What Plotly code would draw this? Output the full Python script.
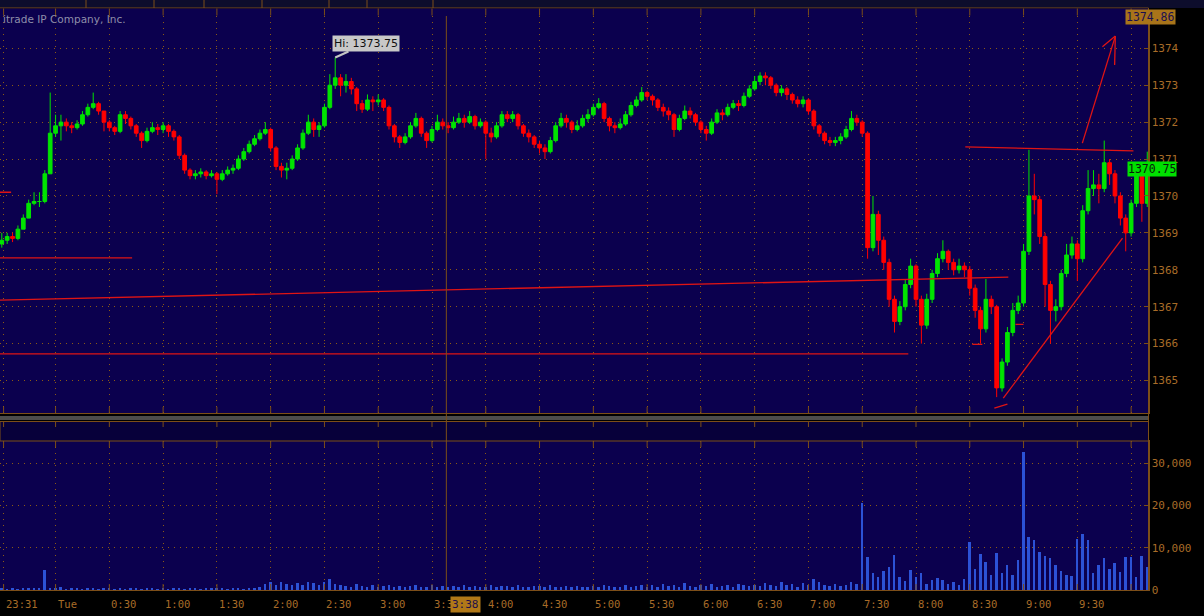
import plotly.graph_objects as go

W, H = 1204, 616

# ---------------- data (3-minute bars, minutes relative to Tue 00:00) ----------------
bar_start = -30
bar_step = 3
first_open = 1368.7

closes = [
    1368.8, 1368.9, 1368.85, 1369.1, 1369.4, 1369.8, 1369.85, 1369.85, 1370.6, 1371.7,
    1371.9, 1372.0, 1371.9, 1371.85, 1371.95, 1372.2, 1372.4, 1372.5, 1372.3, 1372.0,
    1371.85, 1371.75, 1372.2, 1372.1, 1371.9, 1371.7, 1371.5, 1371.75, 1371.85, 1371.8,
    1371.9, 1371.75, 1371.6, 1371.1, 1370.7, 1370.55, 1370.6, 1370.65, 1370.55, 1370.6,
    1370.45, 1370.6, 1370.7, 1370.75, 1371.0, 1371.2, 1371.4, 1371.55, 1371.7, 1371.8,
    1371.3, 1370.8, 1370.7, 1370.75, 1371.0, 1371.3, 1371.7, 1372.0, 1371.8, 1371.9,
    1372.4, 1373.0, 1373.2, 1373.0, 1373.1, 1372.9, 1372.5, 1372.35, 1372.6, 1372.55,
    1372.6, 1372.4, 1371.9, 1371.6, 1371.45, 1371.6, 1371.9, 1372.1, 1371.7, 1371.5,
    1371.8, 1372.0, 1371.9, 1371.85, 1372.0, 1372.1, 1372.0, 1372.15, 1371.9, 1372.0,
    1371.7, 1371.6, 1371.9, 1372.2, 1372.1, 1372.2, 1371.9, 1371.7, 1371.6, 1371.4,
    1371.3, 1371.2, 1371.5, 1371.9, 1372.1, 1372.0, 1371.8, 1371.9, 1372.1, 1372.2,
    1372.4, 1372.5, 1372.1, 1371.9, 1371.85, 1371.95, 1372.2, 1372.45, 1372.6, 1372.8,
    1372.7, 1372.6, 1372.4, 1372.3, 1372.2, 1371.8, 1372.1, 1372.3, 1372.2, 1372.0,
    1371.8, 1371.7, 1372.0, 1372.25, 1372.2, 1372.4, 1372.5, 1372.45, 1372.7, 1372.9,
    1373.1, 1373.25, 1373.2, 1373.0, 1372.8, 1372.9, 1372.75, 1372.6, 1372.5, 1372.6,
    1372.3, 1371.9, 1371.7, 1371.5, 1371.45, 1371.5, 1371.6, 1371.8, 1372.1, 1372.0,
    1371.7, 1368.6, 1369.5, 1368.8, 1368.2, 1367.2, 1366.6, 1367.0, 1367.6, 1368.1,
    1367.2, 1366.5, 1367.2, 1367.9, 1368.3, 1368.5, 1368.2, 1368.0, 1368.1, 1368.0,
    1367.5, 1366.9, 1366.4, 1367.2, 1367.0, 1364.8, 1365.5, 1366.3, 1366.9, 1367.1,
    1368.5, 1370.0, 1369.9, 1368.9, 1367.6, 1366.9, 1367.0, 1367.9, 1368.4, 1368.7,
    1368.3, 1369.6, 1370.2, 1370.3, 1370.2, 1370.9, 1370.6, 1370.0, 1369.4, 1369.0,
    1369.8, 1370.6, 1369.8, 1370.75,
]

highs = [
    1369.0, 1369.0, 1369.0, 1369.2, 1369.5, 1369.9, 1370.1, 1370.1, 1370.7, 1372.8,
    1372.2, 1372.2, 1372.1, 1372.0, 1372.05, 1372.3, 1372.5, 1372.8, 1372.55, 1372.3,
    1372.05, 1371.9, 1372.3, 1372.3, 1372.15, 1371.95, 1371.75, 1371.85, 1372.0, 1371.95,
    1372.0, 1371.95, 1371.8, 1371.65, 1371.15, 1370.75, 1370.7, 1370.75, 1370.7, 1370.7,
    1370.65, 1370.7, 1370.8, 1370.85, 1371.1, 1371.3, 1371.5, 1371.65, 1371.8, 1372.0,
    1371.85, 1371.35, 1370.9, 1370.9, 1371.1, 1371.4, 1371.8, 1372.2, 1372.1, 1372.0,
    1372.5, 1373.3, 1373.75, 1373.3, 1373.3, 1373.2, 1372.95, 1372.6, 1372.75, 1372.7,
    1372.75, 1372.65, 1372.45, 1371.95, 1371.65, 1371.7, 1372.0, 1372.25, 1372.15, 1371.75,
    1371.9, 1372.2, 1372.1, 1372.0, 1372.15, 1372.25, 1372.2, 1372.3, 1372.2, 1372.1,
    1372.05, 1371.85, 1372.0, 1372.3, 1372.3, 1372.3, 1372.25, 1371.95, 1371.8, 1371.65,
    1371.5, 1371.4, 1371.6, 1372.0, 1372.25, 1372.2, 1372.05, 1372.05, 1372.2, 1372.35,
    1372.5, 1372.65, 1372.55, 1372.15, 1372.0, 1372.1, 1372.3, 1372.55, 1372.7, 1372.95,
    1372.85, 1372.75, 1372.65, 1372.5, 1372.4, 1372.25, 1372.2, 1372.45, 1372.4, 1372.25,
    1372.05, 1371.9, 1372.1, 1372.35, 1372.35, 1372.5, 1372.6, 1372.6, 1372.8, 1373.0,
    1373.25, 1373.35, 1373.35, 1373.25, 1373.05, 1373.0, 1372.95, 1372.8, 1372.7, 1372.7,
    1372.65, 1372.35, 1371.95, 1371.75, 1371.6, 1371.6, 1371.7, 1371.9, 1372.3, 1372.2,
    1372.05, 1371.75, 1370.0, 1369.6, 1368.9, 1368.3, 1367.3, 1367.15, 1367.75, 1368.3,
    1368.15, 1367.3, 1367.35, 1368.0, 1368.45, 1368.8, 1368.55, 1368.3, 1368.3, 1368.2,
    1368.1, 1367.6, 1367.0, 1367.75, 1367.3, 1367.05, 1365.6, 1366.45, 1367.1, 1367.3,
    1368.7, 1371.25, 1370.6, 1370.0, 1369.0, 1367.7, 1367.2, 1368.0, 1368.7, 1368.9,
    1368.8, 1369.75, 1370.7, 1370.7, 1370.6, 1371.5, 1371.0, 1370.7, 1370.1, 1369.5,
    1369.9, 1370.9, 1370.7, 1371.2,
]

lows = [
    1368.6, 1368.7, 1368.75, 1368.8, 1369.1, 1369.4, 1369.75, 1369.7, 1369.8, 1370.6,
    1371.6, 1371.5, 1371.75, 1371.7, 1371.8, 1371.9, 1372.15, 1372.35, 1372.2, 1371.75,
    1371.75, 1371.65, 1371.7, 1371.95, 1371.8, 1371.6, 1371.3, 1371.45, 1371.7, 1371.65,
    1371.7, 1371.6, 1371.5, 1371.0, 1370.6, 1370.45, 1370.45, 1370.5, 1370.45, 1370.5,
    1370.05, 1370.4, 1370.55, 1370.6, 1370.7, 1370.95, 1371.15, 1371.35, 1371.5, 1371.65,
    1371.2, 1370.7, 1370.5, 1370.45, 1370.7, 1370.95, 1371.25, 1371.65, 1371.6, 1371.6,
    1371.85, 1372.35, 1372.9, 1372.7, 1372.8, 1372.75, 1372.3, 1372.25, 1372.3, 1372.3,
    1372.45, 1372.3, 1371.8, 1371.45, 1371.3, 1371.4, 1371.55, 1371.85, 1371.6, 1371.3,
    1371.45, 1371.75, 1371.8, 1371.7, 1371.8, 1371.95, 1371.85, 1371.95, 1371.8, 1371.85,
    1371.0, 1371.45, 1371.55, 1371.85, 1372.0, 1372.0, 1371.8, 1371.6, 1371.45, 1371.3,
    1371.15, 1371.0, 1371.15, 1371.45, 1371.85, 1371.85, 1371.7, 1371.75, 1371.85, 1372.0,
    1372.15, 1372.35, 1372.0, 1371.75, 1371.7, 1371.8, 1371.9, 1372.15, 1372.4, 1372.55,
    1372.6, 1372.45, 1372.3, 1372.15, 1372.05, 1371.6, 1371.75, 1372.05, 1372.1, 1371.9,
    1371.7, 1371.5, 1371.65, 1371.95, 1372.05, 1372.15, 1372.35, 1372.3, 1372.4, 1372.65,
    1372.85, 1373.0, 1373.0, 1372.9, 1372.7, 1372.7, 1372.6, 1372.5, 1372.4, 1372.4,
    1372.2, 1371.8, 1371.6, 1371.4, 1371.35, 1371.35, 1371.4, 1371.55, 1371.75, 1371.9,
    1371.6, 1368.3, 1368.5, 1368.4, 1368.0, 1367.0, 1366.3, 1366.5, 1366.9, 1367.5,
    1367.0, 1366.0, 1366.4, 1367.1, 1367.8, 1368.2, 1368.0, 1367.85, 1367.9, 1367.8,
    1367.3, 1366.7, 1366.0, 1366.3, 1366.8, 1364.55, 1364.7, 1365.4, 1366.2, 1366.8,
    1367.0, 1368.4, 1369.5, 1368.7, 1367.0, 1366.0, 1366.6, 1366.9, 1367.8, 1368.3,
    1367.7, 1368.2, 1369.5, 1370.0, 1369.8, 1370.1, 1370.3, 1369.8, 1369.2, 1368.5,
    1368.9, 1369.7, 1369.3, 1369.7,
]

volumes = [
    300, 200, 400, 200, 300, 500, 300, 400, 4700,
    500, 300, 600, 200, 300, 400, 200, 500, 300, 200, 300,
    400, 200, 300, 200, 500, 300, 200, 300, 400, 200,
    300, 200, 400, 300, 200, 500, 300, 200, 300, 400,
    500, 300, 200, 400, 300, 200, 500, 300, 600, 1500,
    1800, 1200, 2000, 1400, 1100, 1700, 1300, 2000, 1600, 1200,
    1900, 2600, 1500, 1200, 1000, 800, 1400, 900, 600, 1100,
    700, 900, 1300, 800, 1000, 600, 900, 1200, 700, 800,
    1200, 600, 900, 700, 1000, 800, 1100, 600, 900, 700,
    800, 1300, 600, 900, 1000, 700, 1200, 800, 600, 1000,
    900, 700, 1100, 600, 800, 1000, 700, 900, 600, 800,
    1000, 700, 1300, 900, 600, 800, 1100, 700, 900, 1200,
    800, 1200, 700, 1500, 900, 1100, 700, 1600, 1000, 800,
    1200, 900, 1400, 700, 1000, 1300, 800, 1500, 1100, 900,
    1300, 1000, 1700, 1200, 900, 2000, 1100, 1400, 800, 1600,
    1200, 2500, 1800, 1300, 1000, 1500, 900, 1200, 1800, 1400,
    20500, 7800, 4000, 3000, 4500, 5400, 8200, 3000, 2200, 4800,
    3100, 3900, 1500, 2300, 2800, 2300, 1500, 2000, 1200, 2500,
    11300, 5000, 8500, 6500, 3500, 8800, 4000, 6000, 3500, 7000,
    32500, 12500, 11800, 9000, 8000, 7500, 6000, 4500, 3500, 3200,
    12000, 13200, 11800, 4000, 6000, 7500, 5000, 6400, 4200, 7800,
    7800, 3000, 8000, 5500,
]

# time axis labels (minutes from Tue 00:00)
tick_times = [-29, 0, 30, 60, 90, 120, 150, 180, 210, 240, 270, 300, 330,
              360, 390, 420, 450, 480, 510, 540, 570]
tick_labels = ["23:31", "Tue", "0:30", "1:00", "1:30", "2:00", "2:30", "3:00", "3:3",
               "4:00", "4:30", "5:00", "5:30", "6:00", "6:30", "7:00", "7:30", "8:00",
               "8:30", "9:00", "9:30"]
grid_times = tick_times + [600]

price_ticks = [1365, 1366, 1367, 1368, 1369, 1370, 1371, 1372, 1373, 1374]
volume_ticks = [0, 10000, 20000, 30000]

# hand-drawn trendlines (time, price)
trend_t0 = [-31, -31, -31, -31, 507.5, 523.7, 528.7, 572.8, 591.2, 591.2, 511.4, 535.5]
trend_p0 = [1368.32, 1370.1, 1367.18, 1365.72, 1371.33, 1364.25, 1364.52, 1371.43, 1374.33, 1374.33, 1365.98, 1366.52]
trend_t1 = [42.7, -24.8, 531.5, 475.7, 601.3, 531.0, 595.2, 591.2, 584.0, 590.8, 517.0, 540.0]
trend_p1 = [1368.32, 1370.1, 1367.80, 1365.72, 1371.22, 1364.36, 1368.86, 1374.33, 1374.04, 1373.55, 1365.98, 1366.52]

hi_value = 1373.75
last_value = 1370.75
top_value = 1374.86
cursor_time = 218
cursor_label = "3:38"

# ---------------- styling ----------------
NAVY = "#0b004e"
NAVY_DARK = "#07003a"
GREEN = "#00e400"
RED = "#ff0000"
BLUE = "#2c52d6"
BROWN = "#7c4e18"
GRID = "#8c5a14"
TXT = "#a86c28"
MONO = "DejaVu Sans Mono"

times = [bar_start + bar_step * i for i in range(len(closes))]
opens = [first_open] + closes[:-1]

def pxx(x):
    return x / W

def pyy(y):
    return 1 - y / H

X_END = 1148.5
PRICE_TOP, PRICE_BOT = 16, 413
VOL_TOP, VOL_BOT = 441, 590
XR = [-31, 609.7]

fig = go.Figure()
fig.add_trace(go.Candlestick(
    x=times, open=opens, high=highs, low=lows, close=closes,
    increasing=dict(line=dict(color=GREEN, width=1), fillcolor=GREEN),
    decreasing=dict(line=dict(color=RED, width=1), fillcolor=RED),
    whiskerwidth=0, xaxis="x", yaxis="y", showlegend=False, hoverinfo="skip"))
fig.add_trace(go.Bar(
    x=times, y=volumes, width=1.1, marker=dict(color=BLUE, line=dict(width=0)),
    xaxis="x2", yaxis="y2", showlegend=False, hoverinfo="skip"))

xcommon = dict(range=XR, domain=[0, pxx(X_END)], tickvals=grid_times,
               showticklabels=False, showgrid=True, gridcolor=GRID, griddash="1px,5px",
               gridwidth=1, zeroline=False, showline=True, linecolor=BROWN, linewidth=1,
               mirror=True, ticks="", fixedrange=True, automargin=False)
ycommon = dict(side="right", showgrid=True, gridcolor=GRID, griddash="1px,5px",
               zeroline=False, showline=True, linecolor=BROWN, linewidth=1,
               ticks="inside", ticklen=5, tickcolor=BROWN, automargin=False,
               tickfont=dict(family=MONO, size=11, color=TXT), fixedrange=True)

fig.update_layout(
    width=W, height=H, margin=dict(l=0, r=0, t=0, b=0, autoexpand=False),
    paper_bgcolor="#000000", plot_bgcolor=NAVY,
    xaxis=dict(**xcommon, anchor="y", rangeslider=dict(visible=False)),
    xaxis2=dict(**xcommon, anchor="y2"),
    yaxis=dict(**ycommon, anchor="x", domain=[pyy(PRICE_BOT), pyy(PRICE_TOP)],
               range=[1364.12, 1374.875], tickvals=price_ticks),
    yaxis2=dict(**ycommon, anchor="x2", domain=[pyy(VOL_BOT), pyy(VOL_TOP)],
                range=[0, 35200], tickvals=volume_ticks, tickformat=",d"),
    bargap=0, boxgap=0.02,
)

shapes = []
# header bar
shapes.append(dict(type="rect", xref="paper", yref="paper", x0=0, x1=1, y0=pyy(8), y1=1,
                   fillcolor="#0d0d2c", line=dict(width=0), layer="below"))
for sx in [86, 154, 204, 262, 329, 367, 433]:
    shapes.append(dict(type="line", xref="paper", yref="paper", x0=pxx(sx), x1=pxx(sx),
                       y0=pyy(8), y1=1, line=dict(color=BROWN, width=1)))
shapes.append(dict(type="line", xref="paper", yref="paper", x0=0, x1=pxx(X_END),
                   y0=pyy(8), y1=pyy(8), line=dict(color=BROWN, width=1)))
# strip above price panel
shapes.append(dict(type="rect", xref="paper", yref="paper", x0=0, x1=pxx(X_END),
                   y0=pyy(PRICE_TOP), y1=pyy(8.5), fillcolor=NAVY, line=dict(width=0)))
# band between panels
shapes.append(dict(type="rect", xref="paper", yref="paper", x0=0, x1=pxx(X_END),
                   y0=pyy(420), y1=pyy(416), fillcolor="#4c4c4c", line=dict(width=0)))
shapes.append(dict(type="rect", xref="paper", yref="paper", x0=0, x1=pxx(X_END),
                   y0=pyy(VOL_TOP), y1=pyy(421.5), fillcolor=NAVY_DARK,
                   line=dict(color=BROWN, width=1)))
# vertical axis edge from top to bottom
shapes.append(dict(type="line", xref="paper", yref="paper", x0=pxx(X_END), x1=pxx(X_END),
                   y0=pyy(VOL_BOT), y1=pyy(8), line=dict(color=BROWN, width=1)))
# small ticks at grid positions
for gt in grid_times:
    for (ya, yb) in [(8.5, 15.5), (407, 413), (421.5, 427), (441, 447), (584, 590)]:
        shapes.append(dict(type="line", xref="x", yref="paper", x0=gt, x1=gt,
                           y0=pyy(yb), y1=pyy(ya), line=dict(color=BROWN, width=1)))
# trendlines
for i in range(len(trend_t0)):
    shapes.append(dict(type="line", xref="x", yref="y", x0=trend_t0[i], y0=trend_p0[i],
                       x1=trend_t1[i], y1=trend_p1[i],
                       line=dict(color="#e01414", width=1.3)))
# cursor line
shapes.append(dict(type="line", xref="x", yref="paper", x0=cursor_time, x1=cursor_time,
                   y0=pyy(VOL_BOT), y1=pyy(PRICE_TOP), line=dict(color=BROWN, width=1)))
fig.update_layout(shapes=shapes)

ann = []
for t, lab in zip(tick_times, tick_labels):
    ann.append(dict(x=t, y=pyy(604), xref="x", yref="paper", text=lab, showarrow=False,
                    xanchor="left", yanchor="middle",
                    font=dict(family=MONO, size=10.5, color=TXT)))
ann.append(dict(x=pxx(1), y=pyy(19), xref="paper", yref="paper",
                text="itrade IP Company, Inc.", showarrow=False, xanchor="left",
                yanchor="middle", font=dict(family="DejaVu Sans", size=10.5, color="#8e8eaa")))
ann.append(dict(x=times[closes.index(1373.2)], y=hi_value, xref="x", yref="y",
                text="Hi: " + f"{hi_value:.2f}", showarrow=True, arrowhead=0,
                arrowwidth=2, arrowcolor="#c4c4c4", ax=31, ay=-14, standoff=0,
                bgcolor="#c8c8c8", borderpad=1,
                font=dict(family="DejaVu Sans", size=11, color="#101010")))
ann.append(dict(x=pxx(1176), y=top_value, xref="paper", yref="y", text=f"{top_value:.2f}",
                showarrow=False, bgcolor="#a8741a", borderpad=0,
                font=dict(family=MONO, size=11.5, color="#1a1050"), yanchor="middle"))
ann.append(dict(x=pxx(1177), y=last_value, xref="paper", yref="y", text=f"{last_value:.2f}",
                showarrow=False, bgcolor="#00e000", borderpad=0, yshift=-1,
                font=dict(family=MONO, size=11.5, color="#0a1a0a"), yanchor="middle"))
ann.append(dict(x=pxx(450), y=pyy(604), xref="paper", yref="paper", text=cursor_label,
                showarrow=False, xanchor="left", bgcolor="#b07818", borderpad=1,
                font=dict(family=MONO, size=11, color="#20104a"), yanchor="middle"))
fig.update_layout(annotations=ann)

fig.write_html("out.html", config={"displayModeBar": False},
               post_script="document.body.style.margin='0';document.body.style.overflow='hidden';document.body.style.background='#000';")
